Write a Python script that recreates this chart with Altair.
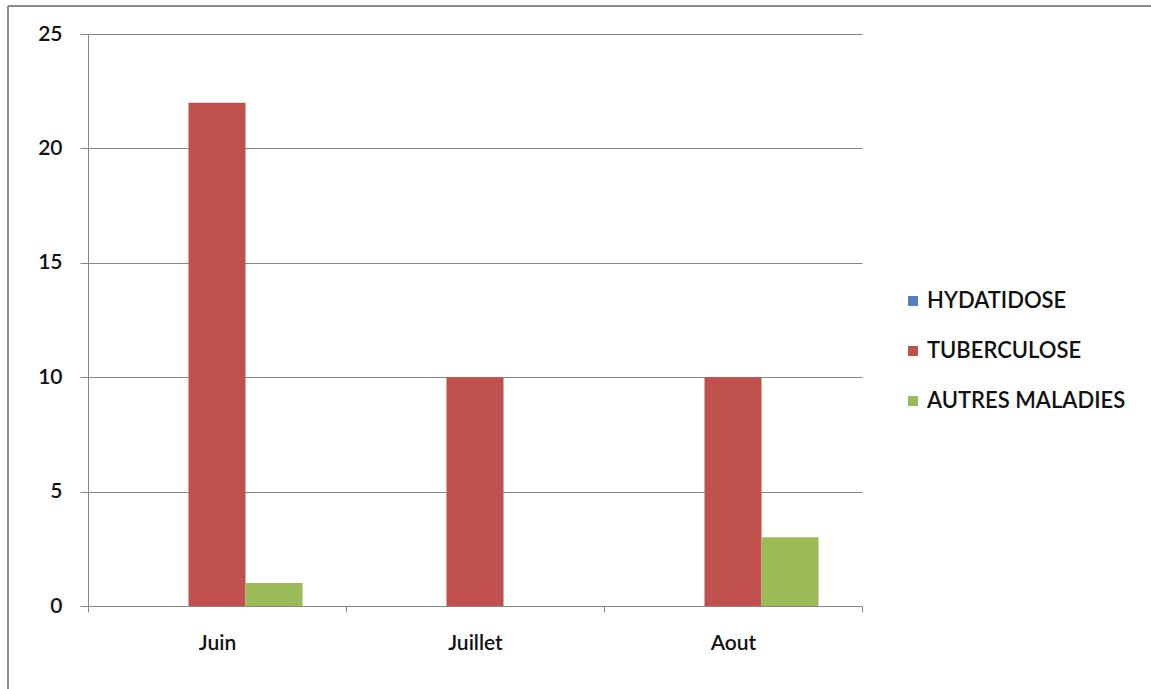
import altair as alt
import pandas as pd

months = ["Juin", "Juillet", "Aout"]
series = ["HYDATIDOSE", "TUBERCULOSE", "AUTRES MALADIES"]
hydatidose = [0, 0, 0]
tuberculose = [22, 10, 10]
autres = [1, 0, 3]
colors = ["#4F81BD", "#C0504D", "#9BBB59"]
y_ticks = [0, 5, 10, 15, 20, 25]

rows = []
for name, vals in zip(series, [hydatidose, tuberculose, autres]):
    for m, v in zip(months, vals):
        rows.append({"mois": m, "serie": name, "valeur": v})
df = pd.DataFrame(rows)

FONT = "Lato"
FS = 21
GRAY = "#868686"

bars = alt.Chart(df).mark_bar().encode(
    x=alt.X("mois:N", sort=months, title=None,
            scale=alt.Scale(paddingInner=0, paddingOuter=0),
            axis=alt.Axis(labelAngle=0, tickBand="extent", grid=False,
                          domainColor=GRAY, tickColor=GRAY, tickSize=6,
                          labelFont=FONT, labelFontSize=FS, labelFontWeight=600,
                          labelColor="#111111", labelPadding=20)),
    xOffset=alt.XOffset("serie:N", sort=series,
                        scale=alt.Scale(paddingInner=0, paddingOuter=0.763)),
    y=alt.Y("valeur:Q", title=None,
            scale=alt.Scale(domain=[0, 25], nice=False),
            axis=alt.Axis(values=y_ticks, grid=True, gridColor=GRAY,
                          domainColor=GRAY, tickColor=GRAY, tickSize=8,
                          labelFont=FONT, labelFontSize=FS, labelFontWeight=600,
                          labelColor="#111111", labelPadding=18)),
    color=alt.Color("serie:N", sort=series,
                    scale=alt.Scale(domain=series, range=colors),
                    legend=alt.Legend(title=None, orient="none", legendX=814,
                                      legendY=256, symbolType="square",
                                      symbolSize=100, symbolStrokeWidth=0,
                                      labelFont=FONT, labelFontSize=22,
                                      labelFontWeight=600, labelLimit=400,
                                      labelColor="#111111", rowPadding=28,
                                      labelOffset=3)),
)

border_top = alt.Chart().mark_rule(color="#8c8c8c", strokeWidth=2).encode(
    x=alt.value(-80), x2=alt.value(1063), y=alt.value(-28))
border_left = alt.Chart().mark_rule(color="#8c8c8c", strokeWidth=2).encode(
    x=alt.value(-80), y=alt.value(-28), y2=alt.value(655))

chart = alt.layer(bars, border_top, border_left).properties(
    width=774, height=572,
    autosize=alt.AutoSizeParams(type="none"),
    padding={"left": 88, "top": 34, "right": 289, "bottom": 83},
    background="#ffffff",
).configure_view(stroke=None)

chart.save("out.html", embed_options={"renderer": "svg", "actions": False})
